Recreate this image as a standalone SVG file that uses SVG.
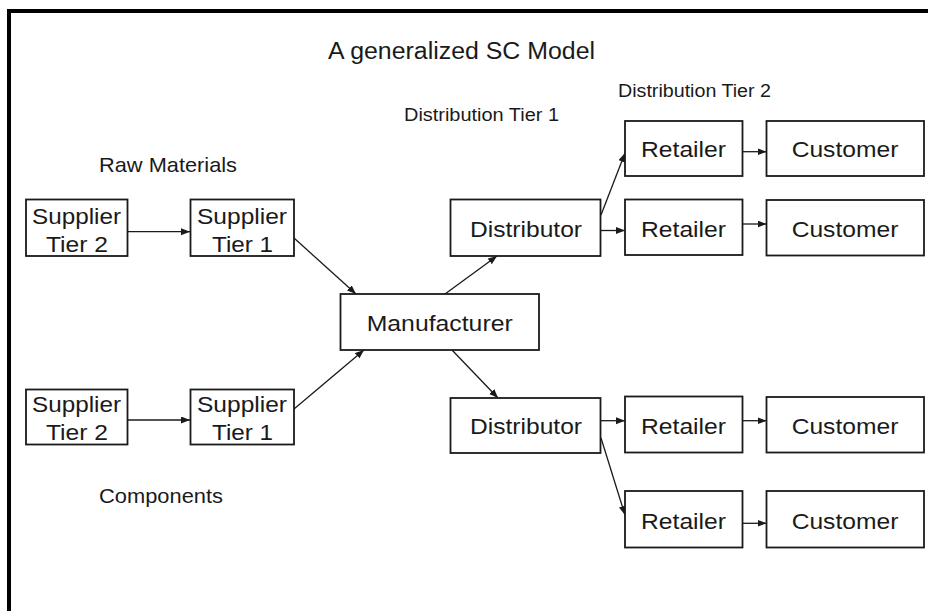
<svg xmlns="http://www.w3.org/2000/svg" width="928" height="611" viewBox="0 0 928 611">
<style>
.box{fill:#fff;stroke:#1a1a1a;stroke-width:1.8}
.t{font-family:"Liberation Sans",Arial,sans-serif;fill:#1a1a1a;text-anchor:middle}
.n{font-size:22px}
.lbl{font-size:17.5px}
.big{font-size:21px}
.c{stroke:#1a1a1a;stroke-width:1.3;fill:none;marker-end:url(#ah)}
</style>
<defs>
<marker id="ah" markerUnits="userSpaceOnUse" markerWidth="10" markerHeight="8" refX="9" refY="3.5" orient="auto">
<path d="M0,0 L9,3.5 L0,7 z" fill="#1a1a1a"/>
</marker>
</defs>
<rect width="928" height="611" fill="#fff"/>
<g id="frame">
<line x1="7" y1="11" x2="928" y2="11" stroke="#000" stroke-width="4"/>
<line x1="9" y1="9" x2="9" y2="611" stroke="#000" stroke-width="4"/>
</g>
<g id="labels">
<text class="t" x="461.5" y="58.5" style="font-size:23.5px" textLength="267" lengthAdjust="spacingAndGlyphs">A generalized SC Model</text>
<text class="t lbl" x="694.5" y="97" textLength="153" lengthAdjust="spacingAndGlyphs">Distribution Tier 2</text>
<text class="t lbl" x="481.5" y="120.5" textLength="155" lengthAdjust="spacingAndGlyphs">Distribution Tier 1</text>
<text class="t big" x="168" y="171.5" textLength="138" lengthAdjust="spacingAndGlyphs">Raw Materials</text>
<text class="t big" x="161" y="502.5" textLength="124" lengthAdjust="spacingAndGlyphs">Components</text>
</g>
<g id="connectors">
<line class="c" x1="128" y1="231.7" x2="190" y2="231.7"/>
<line class="c" x1="128" y1="420" x2="190" y2="420"/>
<line class="c" x1="294" y1="238" x2="356" y2="294"/>
<line class="c" x1="294" y1="409" x2="364" y2="350"/>
<line class="c" x1="445" y1="294" x2="497" y2="256"/>
<line class="c" x1="452" y1="350" x2="498" y2="398"/>
<line class="c" x1="601" y1="215" x2="625" y2="153"/>
<line class="c" x1="601" y1="230.5" x2="625" y2="230.5"/>
<line class="c" x1="601" y1="420.7" x2="625" y2="420.7"/>
<line class="c" x1="601" y1="438" x2="625" y2="515"/>
<line class="c" x1="743" y1="151.7" x2="766.5" y2="151.7"/>
<line class="c" x1="743" y1="224" x2="766.5" y2="224"/>
<line class="c" x1="743" y1="420.7" x2="766.5" y2="420.7"/>
<line class="c" x1="743" y1="523.3" x2="766.5" y2="523.3"/>
</g>
<g id="supplier-tier2-top">
<rect class="box" x="26" y="199.5" width="101.5" height="56.5"/>
<text class="t n" x="76.5" y="223.5" textLength="89" lengthAdjust="spacingAndGlyphs">Supplier</text>
<text class="t n" x="77" y="251.5" textLength="62" lengthAdjust="spacingAndGlyphs">Tier 2</text>
</g>
<g id="supplier-tier1-top">
<rect class="box" x="190.5" y="199.5" width="103.5" height="56.5"/>
<text class="t n" x="242" y="223.5" textLength="90" lengthAdjust="spacingAndGlyphs">Supplier</text>
<text class="t n" x="242.5" y="251.5" textLength="61" lengthAdjust="spacingAndGlyphs">Tier 1</text>
</g>
<g id="supplier-tier2-bottom">
<rect class="box" x="26" y="389.5" width="101.5" height="55"/>
<text class="t n" x="76.5" y="411.5" textLength="89" lengthAdjust="spacingAndGlyphs">Supplier</text>
<text class="t n" x="77" y="440" textLength="62" lengthAdjust="spacingAndGlyphs">Tier 2</text>
</g>
<g id="supplier-tier1-bottom">
<rect class="box" x="190.5" y="389.5" width="103.5" height="55"/>
<text class="t n" x="242" y="411.5" textLength="90" lengthAdjust="spacingAndGlyphs">Supplier</text>
<text class="t n" x="242.5" y="440" textLength="61" lengthAdjust="spacingAndGlyphs">Tier 1</text>
</g>
<g id="manufacturer">
<rect class="box" x="340.5" y="294" width="198.5" height="56"/>
<text class="t n" x="439.7" y="330.7" textLength="146" lengthAdjust="spacingAndGlyphs">Manufacturer</text>
</g>
<g id="distributor-top">
<rect class="box" x="450.5" y="199.5" width="150" height="56.5"/>
<text class="t n" x="526" y="237.3" textLength="112" lengthAdjust="spacingAndGlyphs">Distributor</text>
</g>
<g id="distributor-bottom">
<rect class="box" x="450.5" y="398" width="150" height="55"/>
<text class="t n" x="526" y="434" textLength="112" lengthAdjust="spacingAndGlyphs">Distributor</text>
</g>
<g id="retailer-1">
<rect class="box" x="625" y="121" width="117.5" height="55"/>
<text class="t n" x="683.5" y="156.7" textLength="85" lengthAdjust="spacingAndGlyphs">Retailer</text>
</g>
<g id="customer-1">
<rect class="box" x="766.5" y="121" width="157.5" height="55"/>
<text class="t n" x="845" y="156.7" textLength="106.7" lengthAdjust="spacingAndGlyphs">Customer</text>
</g>
<g id="retailer-2">
<rect class="box" x="625" y="199.5" width="117.5" height="55.5"/>
<text class="t n" x="683.5" y="236.7" textLength="85" lengthAdjust="spacingAndGlyphs">Retailer</text>
</g>
<g id="customer-2">
<rect class="box" x="766.5" y="200" width="157.5" height="55.5"/>
<text class="t n" x="845" y="236.7" textLength="106.7" lengthAdjust="spacingAndGlyphs">Customer</text>
</g>
<g id="retailer-3">
<rect class="box" x="625" y="396.5" width="117.5" height="56"/>
<text class="t n" x="683.5" y="434" textLength="85" lengthAdjust="spacingAndGlyphs">Retailer</text>
</g>
<g id="customer-3">
<rect class="box" x="766.5" y="397" width="157.5" height="55.5"/>
<text class="t n" x="845" y="434" textLength="106.7" lengthAdjust="spacingAndGlyphs">Customer</text>
</g>
<g id="retailer-4">
<rect class="box" x="625" y="491" width="117.5" height="56.5"/>
<text class="t n" x="683.5" y="529" textLength="85" lengthAdjust="spacingAndGlyphs">Retailer</text>
</g>
<g id="customer-4">
<rect class="box" x="766.5" y="491" width="157.5" height="56.5"/>
<text class="t n" x="845" y="529" textLength="106.7" lengthAdjust="spacingAndGlyphs">Customer</text>
</g>
</svg>
